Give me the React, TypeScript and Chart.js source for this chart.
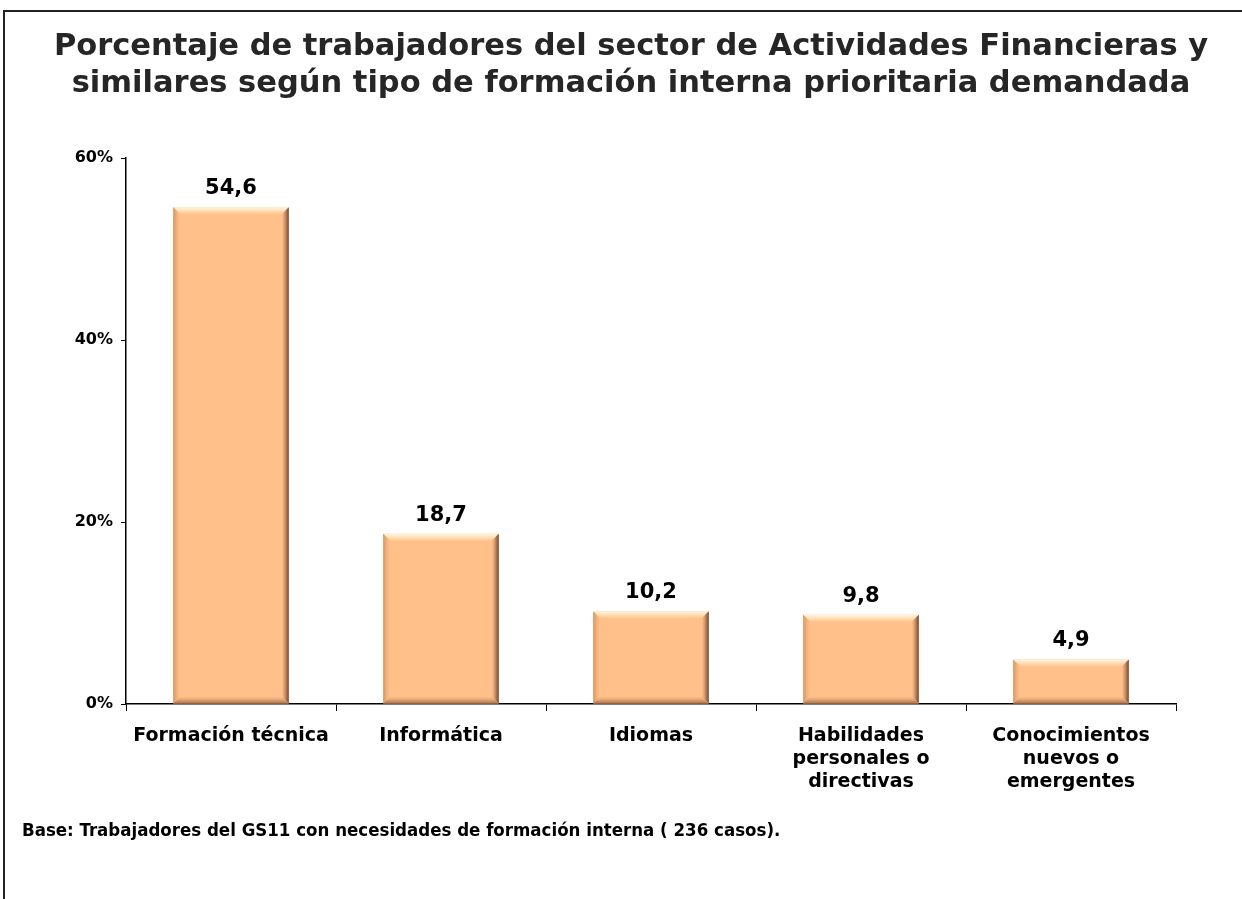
import React, { useEffect, useRef } from "react";
import { Chart, registerables } from "chart.js";

Chart.register(...registerables);

const titleLines = [
  "Porcentaje de trabajadores del sector de Actividades Financieras y",
  "similares según tipo de formación interna prioritaria demandada",
];
const categories: string[][] = [
  ["Formación técnica"],
  ["Informática"],
  ["Idiomas"],
  ["Habilidades", "personales o", "directivas"],
  ["Conocimientos", "nuevos o", "emergentes"],
];
const values = [54.6, 18.7, 10.2, 9.8, 4.9];
const valueLabels = ["54,6", "18,7", "10,2", "9,8", "4,9"];
const yTicks = [0, 20, 40, 60];
const footnote = "Base: Trabajadores del GS11 con necesidades de formación interna ( 236 casos).";

const FONT = "'DejaVu Sans', Verdana, sans-serif";

const bevelPlugin = {
  id: "bevel",
  afterDatasetsDraw(chart: any) {
    const ctx = chart.ctx as CanvasRenderingContext2D;
    const meta = chart.getDatasetMeta(0);
    meta.data.forEach((bar: any) => {
      const { x, y, base, width } = bar.getProps(["x", "y", "base", "width"], true);
      const l = x - width / 2, r = x + width / 2, t = Math.min(y, base), b = Math.max(y, base);
      const d = 7;
      ctx.save();
      // top
      let g = ctx.createLinearGradient(0, t, 0, t + d);
      g.addColorStop(0, "rgba(255,245,225,1)");
      g.addColorStop(0.5, "rgba(255,228,190,0.9)");
      g.addColorStop(1, "rgba(255,215,170,0.3)");
      ctx.fillStyle = g;
      ctx.beginPath(); ctx.moveTo(l, t); ctx.lineTo(r, t); ctx.lineTo(r - d, t + d); ctx.lineTo(l + d, t + d); ctx.closePath(); ctx.fill();
      // left
      g = ctx.createLinearGradient(l, 0, l + d, 0);
      g.addColorStop(0, "rgba(215,140,85,0.9)");
      g.addColorStop(1, "rgba(240,175,120,0)");
      ctx.fillStyle = g;
      ctx.beginPath(); ctx.moveTo(l, t); ctx.lineTo(l + d, t + d); ctx.lineTo(l + d, b - d); ctx.lineTo(l, b); ctx.closePath(); ctx.fill();
      // right
      g = ctx.createLinearGradient(r - d, 0, r, 0);
      g.addColorStop(0, "rgba(200,140,95,0)");
      g.addColorStop(0.6, "rgba(160,105,70,0.75)");
      g.addColorStop(1, "rgba(110,70,45,1)");
      ctx.fillStyle = g;
      ctx.beginPath(); ctx.moveTo(r, t); ctx.lineTo(r, b); ctx.lineTo(r - d, b - d); ctx.lineTo(r - d, t + d); ctx.closePath(); ctx.fill();
      // bottom
      g = ctx.createLinearGradient(0, b - d, 0, b);
      g.addColorStop(0, "rgba(210,150,100,0)");
      g.addColorStop(1, "rgba(160,105,70,0.95)");
      ctx.fillStyle = g;
      ctx.beginPath(); ctx.moveTo(l, b); ctx.lineTo(r, b); ctx.lineTo(r - d, b - d); ctx.lineTo(l + d, b - d); ctx.closePath(); ctx.fill();
      ctx.restore();
    });
  },
};

const valueLabelPlugin = {
  id: "valueLabels",
  afterDatasetsDraw(chart: any) {
    const ctx = chart.ctx as CanvasRenderingContext2D;
    const meta = chart.getDatasetMeta(0);
    ctx.save();
    ctx.font = `bold 21px ${FONT}`;
    ctx.fillStyle = "#000";
    ctx.textAlign = "center";
    ctx.textBaseline = "bottom";
    meta.data.forEach((bar: any, i: number) => {
      ctx.fillText(valueLabels[i], bar.x, bar.y - 8);
    });
    ctx.restore();
  },
};

const textPlugin = {
  id: "texts",
  afterDraw(chart: any) {
    const ctx = chart.ctx as CanvasRenderingContext2D;
    ctx.save();
    ctx.fillStyle = "#262626";
    ctx.textAlign = "center";
    ctx.textBaseline = "alphabetic";
    ctx.font = `bold 30.5px ${FONT}`;
    ctx.fillText(titleLines[0], 631, 55);
    ctx.fillText(titleLines[1], 631, 92);
    ctx.font = `bold 18.5px 'DejaVu Sans Condensed', 'Liberation Sans Narrow', sans-serif`;
    ctx.fillStyle = "#000";
    ctx.textAlign = "left";
    ctx.textBaseline = "middle";
    ctx.fillText(footnote, 22, 831);
    ctx.restore();
  },
};

export default function App() {
  const ref = useRef<HTMLCanvasElement>(null);
  useEffect(() => {
    if (!ref.current) return;
    const chart = new Chart(ref.current, {
      type: "bar",
      data: {
        labels: categories,
        datasets: [
          {
            data: values,
            backgroundColor: "#FFC08A",
            borderWidth: 0,
            barPercentage: 0.55,
            categoryPercentage: 1,
          },
        ],
      },
      options: {
        responsive: false,
        animation: false,
        devicePixelRatio: 1,
        layout: { padding: { left: 0, right: 66, top: 158, bottom: 0 } },
        plugins: {
          legend: { display: false },
          tooltip: { enabled: false },
          title: { display: false },
        },
        scales: {
          x: {
            offset: true,
            grid: { display: true, drawOnChartArea: false, drawTicks: true, tickLength: 7, color: "#000", offset: true },
            border: { display: true, color: "#000", width: 1.5 },
            ticks: {
              color: "#000",
              font: { family: FONT, size: 19, weight: "bold", lineHeight: 1.21 },
              padding: 14,
              maxRotation: 0,
              autoSkip: false,
            },
            afterFit(scale: any) {
              scale.height = 899 - 704;
            },
          },
          y: {
            min: 0,
            max: 60,
            afterBuildTicks(scale: any) {
              scale.ticks = yTicks.map((v) => ({ value: v }));
            },
            grid: { display: true, drawOnChartArea: false, drawTicks: true, tickLength: 5, color: "#000" },
            border: { display: true, color: "#000", width: 1.5 },
            ticks: {
              color: "#000",
              font: { family: FONT, size: 16, weight: "bold" },
              padding: 8,
              callback: (v: any) => `${v}%`,
            },
            afterFit(scale: any) {
              scale.width = 126;
            },
          },
        },
      },
      plugins: [bevelPlugin, valueLabelPlugin, textPlugin],
    });
    return () => chart.destroy();
  }, []);
  return (
    <div style={{ position: "absolute", left: 0, top: 0, width: 1242, height: 899, background: "#fff" }}>
      <canvas ref={ref} width={1242} height={899} style={{ position: "absolute", left: 0, top: 0 }} />
      <div style={{ position: "absolute", left: 3, top: 10, width: 1239, height: 0, borderTop: "2px solid #222" }} />
      <div style={{ position: "absolute", left: 3, top: 10, width: 0, height: 889, borderLeft: "2px solid #222" }} />
    </div>
  );
}
